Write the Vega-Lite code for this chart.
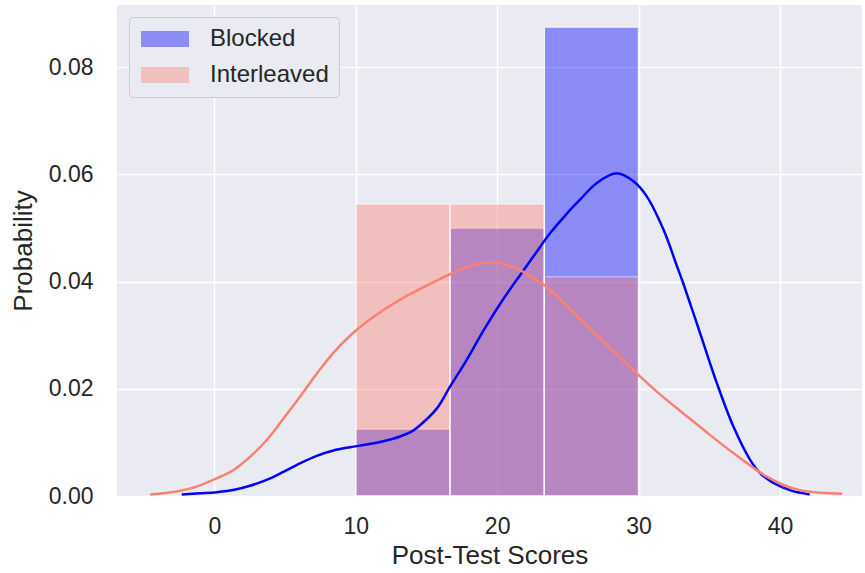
{
  "$schema": "https://vega.github.io/schema/vega-lite/v6.json",
  "width": 745,
  "height": 491,
  "autosize": {"type": "none"},
  "padding": {"left": 117, "top": 5, "right": 3, "bottom": 77},
  "background": "white",
  "datasets": {
    "bars": [
      {"group": "Blocked", "x0": 10, "x1": 16.667, "density": 0.0125},
      {"group": "Blocked", "x0": 16.667, "x1": 23.333, "density": 0.05},
      {"group": "Blocked", "x0": 23.333, "x1": 30, "density": 0.0875},
      {"group": "Interleaved", "x0": 10, "x1": 16.667, "density": 0.0545},
      {"group": "Interleaved", "x0": 16.667, "x1": 23.333, "density": 0.0545},
      {"group": "Interleaved", "x0": 23.333, "x1": 30, "density": 0.0409}
    ],
    "kde": [
      {"group": "Blocked", "x": -2.3, "y": 0.0003},
      {"group": "Blocked", "x": -1, "y": 0.0005},
      {"group": "Blocked", "x": 0.17, "y": 0.0007},
      {"group": "Blocked", "x": 1.5, "y": 0.0012},
      {"group": "Blocked", "x": 2.52, "y": 0.0019},
      {"group": "Blocked", "x": 3.7, "y": 0.003},
      {"group": "Blocked", "x": 4.88, "y": 0.0045},
      {"group": "Blocked", "x": 6.06, "y": 0.0061},
      {"group": "Blocked", "x": 7.24, "y": 0.0075},
      {"group": "Blocked", "x": 8.42, "y": 0.0085},
      {"group": "Blocked", "x": 9.6, "y": 0.0091},
      {"group": "Blocked", "x": 10.78, "y": 0.0096},
      {"group": "Blocked", "x": 11.96, "y": 0.0102},
      {"group": "Blocked", "x": 13.13, "y": 0.0111},
      {"group": "Blocked", "x": 14.0, "y": 0.0121},
      {"group": "Blocked", "x": 14.55, "y": 0.0132},
      {"group": "Blocked", "x": 15.73, "y": 0.0163},
      {"group": "Blocked", "x": 16.67, "y": 0.0204},
      {"group": "Blocked", "x": 17.85, "y": 0.0254},
      {"group": "Blocked", "x": 19.02, "y": 0.0308},
      {"group": "Blocked", "x": 20.3, "y": 0.0362},
      {"group": "Blocked", "x": 21.62, "y": 0.0412},
      {"group": "Blocked", "x": 22.7, "y": 0.0452},
      {"group": "Blocked", "x": 23.74, "y": 0.049},
      {"group": "Blocked", "x": 24.9, "y": 0.0526},
      {"group": "Blocked", "x": 25.87, "y": 0.0553},
      {"group": "Blocked", "x": 27.05, "y": 0.0584},
      {"group": "Blocked", "x": 28.46, "y": 0.0602},
      {"group": "Blocked", "x": 29.64, "y": 0.0587},
      {"group": "Blocked", "x": 30.58, "y": 0.0559},
      {"group": "Blocked", "x": 31.76, "y": 0.0497},
      {"group": "Blocked", "x": 32.7, "y": 0.043},
      {"group": "Blocked", "x": 33.17, "y": 0.0396},
      {"group": "Blocked", "x": 34.35, "y": 0.0304},
      {"group": "Blocked", "x": 35.53, "y": 0.0211},
      {"group": "Blocked", "x": 36.7, "y": 0.013},
      {"group": "Blocked", "x": 37.9, "y": 0.0067},
      {"group": "Blocked", "x": 38.7, "y": 0.004},
      {"group": "Blocked", "x": 39.5, "y": 0.0025},
      {"group": "Blocked", "x": 40.8, "y": 0.001},
      {"group": "Blocked", "x": 42.1, "y": 0.0003},
      {"group": "Interleaved", "x": -4.54, "y": 0.0003},
      {"group": "Interleaved", "x": -3.3, "y": 0.0006},
      {"group": "Interleaved", "x": -2.19, "y": 0.0011},
      {"group": "Interleaved", "x": -1.1, "y": 0.0019},
      {"group": "Interleaved", "x": 0.17, "y": 0.0033},
      {"group": "Interleaved", "x": 1.34, "y": 0.0048},
      {"group": "Interleaved", "x": 2.52, "y": 0.0073},
      {"group": "Interleaved", "x": 3.7, "y": 0.0104},
      {"group": "Interleaved", "x": 4.88, "y": 0.0144},
      {"group": "Interleaved", "x": 6.06, "y": 0.0185},
      {"group": "Interleaved", "x": 7.24, "y": 0.0228},
      {"group": "Interleaved", "x": 8.42, "y": 0.0267},
      {"group": "Interleaved", "x": 9.6, "y": 0.0299},
      {"group": "Interleaved", "x": 10.78, "y": 0.0325},
      {"group": "Interleaved", "x": 11.96, "y": 0.0347},
      {"group": "Interleaved", "x": 13.13, "y": 0.0366},
      {"group": "Interleaved", "x": 14.31, "y": 0.0383},
      {"group": "Interleaved", "x": 15.5, "y": 0.0399},
      {"group": "Interleaved", "x": 16.67, "y": 0.0414},
      {"group": "Interleaved", "x": 18.1, "y": 0.0429},
      {"group": "Interleaved", "x": 19.6, "y": 0.0436},
      {"group": "Interleaved", "x": 20.7, "y": 0.0431},
      {"group": "Interleaved", "x": 21.85, "y": 0.0418},
      {"group": "Interleaved", "x": 22.7, "y": 0.0404},
      {"group": "Interleaved", "x": 23.5, "y": 0.039},
      {"group": "Interleaved", "x": 24.8, "y": 0.0358},
      {"group": "Interleaved", "x": 26.1, "y": 0.0324},
      {"group": "Interleaved", "x": 28.0, "y": 0.0276},
      {"group": "Interleaved", "x": 29.87, "y": 0.0229},
      {"group": "Interleaved", "x": 31.5, "y": 0.019},
      {"group": "Interleaved", "x": 33.17, "y": 0.0154},
      {"group": "Interleaved", "x": 35.0, "y": 0.0115},
      {"group": "Interleaved", "x": 36.7, "y": 0.008},
      {"group": "Interleaved", "x": 38.0, "y": 0.0055},
      {"group": "Interleaved", "x": 39.07, "y": 0.0036},
      {"group": "Interleaved", "x": 40.2, "y": 0.0021},
      {"group": "Interleaved", "x": 41.4, "y": 0.0011},
      {"group": "Interleaved", "x": 42.9, "y": 0.0006},
      {"group": "Interleaved", "x": 44.4, "y": 0.0004}
    ]
  },
  "layer": [
    {
      "data": {"name": "bars"},
      "mark": {"type": "bar", "opacity": 0.4, "stroke": "white", "strokeWidth": 1.5},
      "encoding": {
        "x": {
          "field": "x0",
          "type": "quantitative",
          "scale": {"domain": [-6.88, 45.8], "nice": false, "zero": false},
          "axis": {"values": [0, 10, 20, 30, 40], "title": "Post-Test Scores"}
        },
        "x2": {"field": "x1"},
        "y": {
          "field": "density",
          "type": "quantitative",
          "scale": {"domain": [0, 0.0916], "nice": false},
          "axis": {"values": [0, 0.02, 0.04, 0.06, 0.08], "format": ".2f", "title": "Probability"}
        },
        "y2": {"datum": 0},
        "color": {
          "field": "group",
          "type": "nominal",
          "scale": {"domain": ["Blocked", "Interleaved"], "range": ["#0000ff", "#fa8072"]},
          "legend": {
            "title": null,
            "orient": "top-left",
            "offset": 12,
            "padding": 10,
            "fillColor": "#eaeaf2",
            "strokeColor": "#cccccc",
            "cornerRadius": 4,
            "symbolType": "M-3,-1H3V1H-3Z",
            "symbolSize": 256,
            "symbolOpacity": 0.4,
            "symbolStrokeWidth": 0,
            "symbolOffset": 14,
            "labelFont": "Liberation Sans",
            "labelFontSize": 24,
            "labelColor": "#262626",
            "labelOffset": 33,
            "rowPadding": 12
          }
        }
      }
    },
    {
      "data": {"name": "kde"},
      "mark": {"type": "line", "strokeWidth": 2.5, "interpolate": "catmull-rom"},
      "encoding": {
        "x": {"field": "x", "type": "quantitative"},
        "y": {"field": "y", "type": "quantitative"},
        "color": {"field": "group", "type": "nominal", "legend": null}
      }
    }
  ],
  "config": {
    "view": {"fill": "#eaeaf2", "stroke": null},
    "font": "Liberation Sans",
    "axis": {
      "domain": false,
      "ticks": false,
      "grid": true,
      "gridColor": "white",
      "gridWidth": 1.5,
      "labelFont": "Liberation Sans",
      "labelFontSize": 23,
      "labelColor": "#262626",
      "titleFont": "Liberation Sans",
      "titleFontSize": 26,
      "titleFontWeight": "normal",
      "titleColor": "#262626"
    },
    "axisX": {"labelPadding": 19, "titlePadding": 4},
    "axisY": {"labelPadding": 24, "titlePadding": 12}
  }
}
